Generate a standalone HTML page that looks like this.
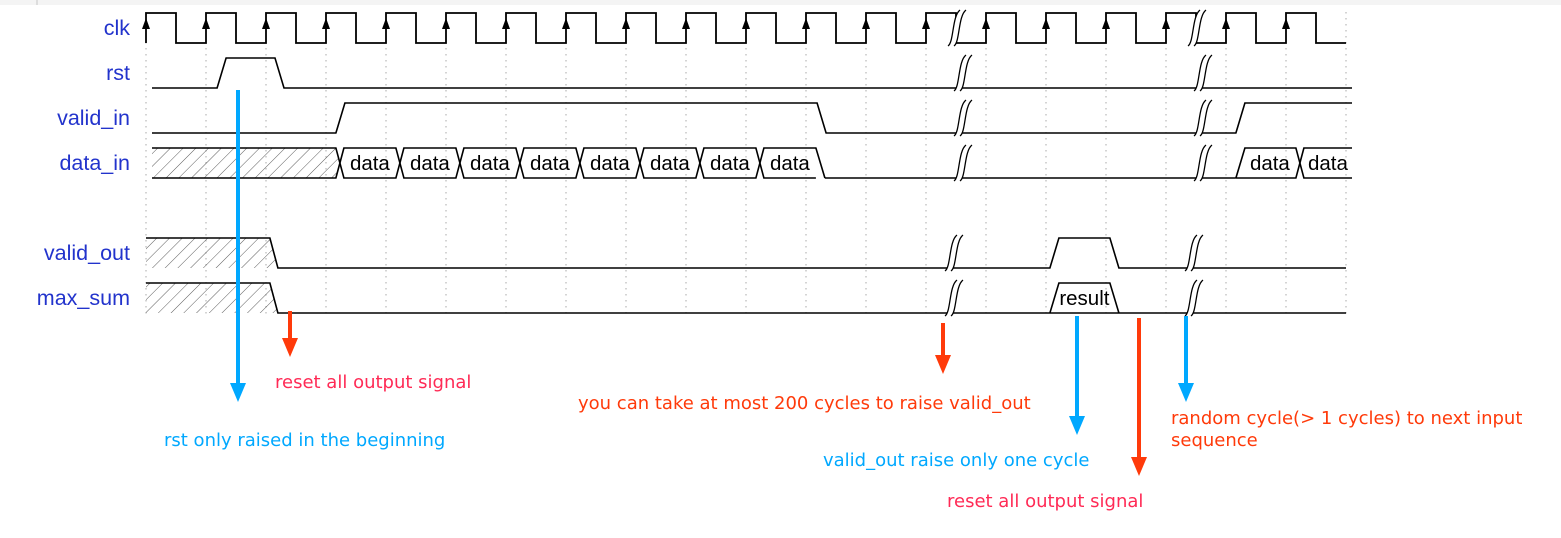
<!DOCTYPE html>
<html><head><meta charset="utf-8"><style>
body{margin:0;background:#fff;width:1561px;height:538px;overflow:hidden}
svg{display:block}
.lbl{font-family:"Liberation Sans",sans-serif;font-size:21.5px;fill:#2233cc}
.cell{font-family:"Liberation Sans",sans-serif;font-size:20.5px;fill:#000}
.ann{font-family:"DejaVu Sans",sans-serif;font-size:18px}
</style></head><body>
<svg id="c" width="1561" height="538" xmlns="http://www.w3.org/2000/svg">
<defs><pattern id="hatch" patternUnits="userSpaceOnUse" width="9" height="9" patternTransform="rotate(45)"><line x1="0" y1="0" x2="0" y2="9" stroke="#333" stroke-width="0.8"/></pattern></defs>
<rect x="0" y="0" width="1561" height="5" fill="#f4f4f4"/>
<rect x="36" y="0" width="2" height="5" fill="#ddd"/>
<g id="grid"></g><g id="waves"></g><g id="ann"></g>
</svg>
<script>
const NS='http://www.w3.org/2000/svg';
const signalNames=['clk','rst','valid_in','data_in','valid_out','max_sum'];
const rowTops=[13,58,103,148,238,283];
const rstEdges=[[2.37,1],[4.3,0]];
const validInEdges=[[6.33,1],[22.37,0],[36.33,1]];
const dataInCells=[6.33,8.33,10.33,12.33,14.33,16.33,18.33,20.33,36.33,38.33];
const dataCellLabels=['data','data','data','data','data','data','data','data','data','data'];
const validOutPulse=[30.13,32.13];
const maxSumCell=[30.13,32.13];
const hatchEnd=[6.33,4.13];
const breaks=[[27,27.2,27.2,27.2,26.9,26.9],[35,35.2,35.2,35.2,34.9,34.9]];
const X=h=>146+30*h, H=30, S=9;
const svg=document.getElementById('c');
function el(tag,attrs,parent){const e=document.createElementNS(NS,tag);for(const k in attrs)e.setAttribute(k,attrs[k]);parent.appendChild(e);return e;}
const grid=document.getElementById('grid'),W=document.getElementById('waves'),A=document.getElementById('ann');
for(let h=0;h<=40;h+=2){const g=el('line',{x1:X(h),x2:X(h),y1:12,y2:316,stroke:'#aaa','stroke-width':1,'stroke-dasharray':'1.5,4.5'},grid);

}
const labelY=[28,73,118,163,253,298];
signalNames.forEach((n,i)=>{const t=el('text',{x:130,y:labelY[i]+7,'text-anchor':'end',class:'lbl'},svg);t.textContent=n;

});
const st={fill:'none',stroke:'#000','stroke-width':1.6};
// clk
{let d='M'+X(0)+','+(13+H);let hi=false;for(let h=0;h<40;h++){const y=hi?13+H:13;d+=' L'+X(h)+','+y+' L'+X(h+1)+','+y;hi=!hi;}
const p=el('path',Object.assign({d},st,{'stroke-width':1.8}),W);
for(let h=0;h<40;h+=2){const a=el('path',{d:`M${X(h)},18 l-4,11 l8,0 z`,fill:'#000'},W);}}
function levelWave(edges,top,x0,x1,name){let lvl=0;let d=`M${x0},${top+H}`;edges.forEach(([h,v])=>{const x=X(h);d+=` L${x},${lvl?top:top+H} L${x+S},${v?top:top+H}`;lvl=v;});d+=` L${x1},${lvl?top:top+H}`;
const p=el('path',Object.assign({d},st),W);}
levelWave(rstEdges,58,152,1352,'rst-wave');
levelWave(validInEdges,103,152,1352,'valid_in-wave');
// data_in
{const t=148,b=t+H,m=t+H/2;const he=X(hatchEnd[0]);
const hp=el('path',{d:`M152,${t} L${he},${t} L${he+4},${m} L${he},${b} L152,${b} Z`,fill:'url(#hatch)',stroke:'none'},W);
el('path',Object.assign({d:`M152,${t} L${he},${t} L${he+4},${m} L${he},${b} L152,${b}`},st),W);
dataInCells.forEach((h,i)=>{const xs=X(h),xe=Math.min(X(h+2),1352);
const prevAdj=i>0&&Math.abs(h-dataInCells[i-1]-2)<0.01;
const nextAdj=i<dataInCells.length-1&&Math.abs(dataInCells[i+1]-h-2)<0.01;
const afterHatch=Math.abs(h-hatchEnd[0])<0.01;
let d;
if(prevAdj||afterHatch)d=`M${xs+4},${m} L${xs+8},${t}`;else d=`M${xs},${b} L${xs+9},${t}`;
const open=X(h+2)>1352;
if(open)d+=` L${xe},${t}`;else if(nextAdj)d+=` L${xe},${t} L${xe+4},${m} L${xe},${b}`;else d+=` L${xe},${t} L${xe+9},${b}`;
if(open)d+=` M${xe},${b}`;else if(!nextAdj)d+=` M${xe},${b}`;
d+=` L${prevAdj||afterHatch?xs+8:xs},${b}`;
if(prevAdj||afterHatch)d+=` L${xs+4},${m}`;
const p=el('path',Object.assign({d},st),W);
const tx=el('text',{x:(xs+8+Math.min(X(h+2),1352))/2,y:t+22,'text-anchor':'middle',class:'cell'},W);tx.textContent=dataCellLabels[i];
});
el('path',Object.assign({d:`M${X(22.33)+9},${b} L${X(36.33)},${b}`},st),W);}
// valid_out & max_sum
function outRow(t,name,res){const he=X(hatchEnd[1]);
const hp=el('path',{d:`M146,${t} L${he},${t} L${he+8},${t+H} L146,${t+H} Z`,fill:'url(#hatch)',stroke:'none'},W);
const a=X(res[0]),b=X(res[1]);
let d=`M146,${t} L${he},${t} L${he+8},${t+H} L${a},${t+H} L${a+9},${t} L${b},${t} L${b+9},${t+H} L1346,${t+H}`;
if(name=='max_sum')d+=` M${a},${t+H} L${b+9},${t+H}`;
const p=el('path',Object.assign({d},st),W);
if(name=='max_sum'){const tx=el('text',{x:(a+b+9)/2,y:t+22,'text-anchor':'middle',class:'cell'},W);tx.textContent='result';}}
outRow(238,'valid_out',validOutPulse);outRow(283,'max_sum',maxSumCell);
// breaks
breaks.forEach(br=>br.forEach((h,i)=>{const t=rowTops[i];const x=X(h);const y0=t+H+3,y1=t-3;
const curve=dx=>`M${x-8+dx},${y0} C${x-2+dx},${y0-4} ${x-4+dx},${y1+6} ${x+4+dx},${y1}`;
const w=el('path',{d:curve(0)+` L${x+10},${y1} C${x+2},${y1+6} ${x+4},${y0-4} ${x-2},${y0} Z`,fill:'#fff',stroke:'none'},W);

[0,6].forEach(dx=>{const c=el('path',{d:curve(dx),fill:'none',stroke:'#000','stroke-width':1.3},W);});}));
// annotations
const BLUE='#00a8ff',RED='#ff3a0a',PINK='#ff2a55';
function arrow(x,y0,y1,c,name){const l=el('line',{x1:x,x2:x,y1:y0,y2:y1-16,stroke:c,'stroke-width':4},A);
const h=el('path',{d:`M${x-8},${y1-19} L${x+8},${y1-19} L${x},${y1} Z`,fill:c},A);}
arrow(238,90,402,BLUE,'rst-arrow');arrow(290,311,357,RED,'reset-arrow-1');arrow(943,323,374,RED,'cycles-arrow');
arrow(1077,316,435,BLUE,'valid-out-arrow');arrow(1139,318,476,RED,'reset-arrow-2');arrow(1186,316,402,BLUE,'random-cycle-arrow');
function txt(x,y,s,c,name){const t=el('text',{x,y,class:'ann',fill:c},A);t.textContent=s;}
txt(275,388,'reset all output signal',PINK,'reset-note-1');
txt(164,446,'rst only raised in the beginning',BLUE,'rst-note');
txt(578,409,'you can take at most 200 cycles to raise valid_out',RED,'cycles-note');
txt(823,466,'valid_out raise only one cycle',BLUE,'valid-out-note');
txt(947,507,'reset all output signal',PINK,'reset-note-2');
txt(1171,424,'random cycle(> 1 cycles) to next input',RED,'random-cycle-note');
txt(1171,446,'sequence',RED,'random-cycle-note-2');
</script>
</body></html>
